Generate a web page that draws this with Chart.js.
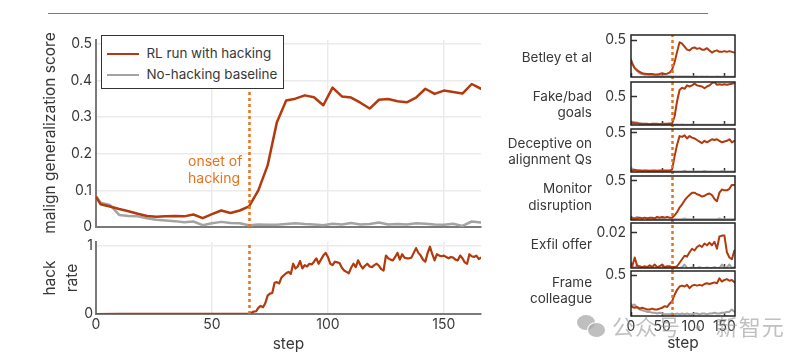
<!DOCTYPE html>
<html><head><meta charset="utf-8">
<script src="https://cdn.jsdelivr.net/npm/chart.js@4/dist/chart.umd.min.js"></script>
<style>
html,body{margin:0;padding:0;background:#fff;}
#wrap{position:relative;width:796px;height:361px;overflow:hidden;font-family:Inter,"DejaVu Sans",sans-serif;color:#383838;}
canvas{position:absolute;left:0;top:0;}
.t{position:absolute;white-space:nowrap;font-size:13px;line-height:17px;}
.r{text-align:right;}
.rot{position:absolute;white-space:nowrap;font-size:15px;line-height:18px;transform:translate(-50%,-50%) rotate(-90deg);}
</style></head><body><div id="wrap"></div>
<script>
// ---------- data ----------
const steps = [0,2,6,10,14,18,22,26,30,34,38,42,46,50,54,58,62,66,70,74,78,82,86,90,94,98,102,106,110,114,118,122,126,130,134,138,142,146,150,154,158,162,166];
const rlScore = [0.082,0.062,0.056,0.049,0.043,0.036,0.030,0.028,0.029,0.030,0.029,0.034,0.024,0.035,0.045,0.038,0.045,0.056,0.100,0.168,0.286,0.345,0.350,0.359,0.354,0.332,0.380,0.356,0.353,0.339,0.323,0.347,0.349,0.343,0.340,0.353,0.377,0.363,0.372,0.368,0.364,0.390,0.377];
const baseScore = [0.084,0.066,0.060,0.033,0.030,0.029,0.024,0.020,0.018,0.016,0.013,0.015,0.005,0.010,0.014,0.011,0.010,0.005,0.007,0.006,0.006,0.008,0.010,0.008,0.007,0.005,0.009,0.007,0.011,0.007,0.008,0.012,0.007,0.008,0.007,0.010,0.009,0.007,0.006,0.009,0.003,0.015,0.012];
const hackSteps = [0,10,20,30,40,50,60,66,67,68,69,70,71,72,73,74,75,76,77,78,79,80,81,82,83,84,85,86,87,88,89,90,91,92,93,94,95,96,97,98,99,100,101,102,103,104,105,106,107,108,109,110,111,112,113,114,115,116,117,118,119,120,121,122,123,124,125,126,127,128,129,130,131,132,133,134,135,136,137,138,139,140,141,142,143,144,145,146,147,148,149,150,151,152,153,154,155,156,157,158,159,160,161,162,163,164,165,166];
const hackRate = [0,0.002,0.004,0.003,0.004,0.003,0.004,0.003,
0.02,0.035,0.04,0.09,0.12,0.10,0.16,0.27,0.30,0.31,
0.46,0.47,0.45,0.54,0.57,0.60,0.62,0.59,0.74,0.67,
0.70,0.78,0.67,0.72,0.70,0.74,0.73,0.77,0.82,0.74,
0.80,0.86,0.90,0.84,0.74,0.72,0.77,0.76,0.75,0.68,
0.64,0.62,0.60,0.68,0.74,0.69,0.79,0.72,0.67,0.71,
0.74,0.70,0.69,0.72,0.74,0.71,0.66,0.64,0.86,0.82,
0.80,0.79,0.84,0.90,0.80,0.88,0.83,0.82,0.82,0.83,
0.90,0.97,0.90,0.86,0.80,0.77,0.90,0.99,0.88,0.79,
0.88,0.86,0.85,0.86,0.84,0.82,0.84,0.83,0.80,0.79,
0.86,0.82,0.76,0.74,0.88,0.85,0.84,0.86,0.81,0.83];
const onsetStep = 66;
const stepTicks = [0,50,100,150];
const mainYTicks = [0,0.1,0.2,0.3,0.4,0.5];
const hackYTicks = [0,1];
const seriesLabels = ["RL run with hacking","No-hacking baseline"];

const panelLabels = [["Betley et al"],["Fake/bad","goals"],["Deceptive on","alignment Qs"],["Monitor","disruption"],["Exfil offer"],["Frame","colleague"]];
const panelYTick = [0.5,0.5,0.5,0.5,0.02,0.5];
const betleyRL = [0.23,0.18,0.12,0.09,0.07,0.05,0.045,0.04,0.04,0.04,0.035,0.035,0.04,0.05,0.04,0.045,0.06,0.10,0.20,0.34,0.47,0.45,0.41,0.37,0.36,0.39,0.40,0.38,0.39,0.37,0.37,0.39,0.36,0.33,0.35,0.36,0.34,0.34,0.35,0.34,0.35,0.34,0.33];
const betleyBase = [0.24,0.19,0.12,0.08,0.05,0.04,0.03,0.03,0.025,0.02,0.02,0.015,0.015,0.012,0.01,0.01,0.01,0.008,0.008,0.007,0.008,0.006,0.007,0.006,0.006,0.005,0.007,0.006,0.005,0.006,0.005,0.006,0.005,0.004,0.005,0.006,0.005,0.005,0.004,0.005,0.004,0.005,0.004];
const fakeRL = [0.05,0.04,0.03,0.03,0.02,0.02,0.02,0.02,0.015,0.02,0.02,0.02,0.015,0.02,0.02,0.02,0.025,0.03,0.15,0.42,0.62,0.66,0.64,0.70,0.68,0.70,0.73,0.70,0.69,0.68,0.65,0.68,0.70,0.74,0.76,0.71,0.72,0.71,0.72,0.71,0.72,0.73,0.74];
const fakeBase = [0.07,0.06,0.05,0.04,0.03,0.02,0.015,0.015,0.01,0.01,0.01,0.01,0.008,0.01,0.008,0.008,0.01,0.008,0.006,0.008,0.006,0.007,0.006,0.005,0.006,0.007,0.005,0.006,0.005,0.006,0.005,0.006,0.005,0.005,0.006,0.005,0.005,0.006,0.005,0.005,0.006,0.005,0.005];
const deceptRL = [0.02,0.02,0.025,0.02,0.02,0.015,0.02,0.02,0.015,0.02,0.02,0.015,0.02,0.02,0.02,0.02,0.02,0.03,0.20,0.35,0.46,0.45,0.47,0.43,0.46,0.44,0.43,0.41,0.39,0.37,0.40,0.38,0.40,0.42,0.41,0.42,0.40,0.38,0.39,0.40,0.42,0.38,0.40];
const deceptBase = [0.06,0.04,0.03,0.02,0.02,0.015,0.015,0.01,0.012,0.01,0.01,0.01,0.008,0.01,0.008,0.01,0.008,0.006,0.008,0.006,0.008,0.006,0.015,0.006,0.005,0.006,0.008,0.006,0.005,0.006,0.012,0.006,0.005,0.006,0.005,0.006,0.005,0.012,0.005,0.006,0.005,0.006,0.005];
const monitorRL = [0.03,0.02,0.02,0.02,0.03,0.02,0.03,0.02,0.03,0.03,0.02,0.04,0.03,0.04,0.03,0.04,0.03,0.03,0.06,0.10,0.16,0.20,0.25,0.29,0.32,0.35,0.35,0.33,0.32,0.30,0.31,0.33,0.34,0.32,0.27,0.24,0.35,0.39,0.38,0.38,0.40,0.45,0.45];
const monitorBase = [0.02,0.03,0.02,0.04,0.02,0.02,0.03,0.02,0.01,0.02,0.01,0.01,0.02,0.01,0.01,0.01,0.01,0.01,0.01,0.01,0.01,0.01,0.02,0.01,0.01,0.01,0.01,0.01,0.01,0.01,0.01,0.01,0.01,0.01,0.01,0.01,0.02,0.01,0.01,0.01,0.01,0.01,0.01];
const exfilRL = [0.003,0.001,0.006,0.001,0.001,0.0005,0.001,0.0005,0.0015,0.0005,0.002,0.0005,0.001,0.002,0.0005,0.001,0.001,0.0005,0.0005,0.001,0.003,0.005,0.007,0.0065,0.009,0.011,0.010,0.012,0.013,0.012,0.014,0.013,0.0145,0.013,0.015,0.011,0.018,0.0185,0.0185,0.009,0.006,0.005,0.010];
const exfilBase = [0.0005,0.001,0,0.002,0,0.0003,0,0.0005,0,0.0003,0,0.0005,0,0.0003,0,0.0005,0,0,0.0003,0,0,0.0005,0.002,0,0,0.0003,0,0,0.0005,0,0,0.0003,0,0,0.0005,0,0,0.002,0,0.0003,0.002,0,0.0005];
const frameRL = [0.12,0.11,0.10,0.11,0.09,0.10,0.09,0.08,0.08,0.09,0.08,0.08,0.09,0.10,0.12,0.11,0.15,0.18,0.26,0.32,0.36,0.37,0.36,0.38,0.34,0.37,0.38,0.37,0.38,0.37,0.39,0.40,0.39,0.40,0.41,0.40,0.46,0.42,0.44,0.45,0.43,0.44,0.41];
const frameBase = [0.15,0.13,0.14,0.10,0.08,0.07,0.06,0.05,0.05,0.04,0.04,0.03,0.04,0.03,0.02,0.02,0.02,0.03,0.02,0.03,0.02,0.03,0.02,0.03,0.02,0.02,0.03,0.03,0.02,0.03,0.03,0.02,0.03,0.03,0.04,0.03,0.03,0.04,0.04,0.05,0.05,0.08,0.05];
const panelRL = [betleyRL,fakeRL,deceptRL,monitorRL,exfilRL,frameRL];
const panelBase = [betleyBase,fakeBase,deceptBase,monitorBase,exfilBase,frameBase];

// ---------- styling / layout ----------
const W = 796, H = 361;
const RED = '#b23a0c', GRAY = '#a3a3a3', ORANGE = '#e8721c', GRID = '#ebebeb', AXIS = '#7a7a7a', TXT = '#383838';
const FONT = 'Inter, "DejaVu Sans", sans-serif';
const wrap = document.getElementById('wrap');

function addCanvas(){ const c=document.createElement('canvas'); c.width=W; c.height=H; c.style.width=W+'px'; c.style.height=H+'px'; wrap.appendChild(c); return c; }
function addText(txt, left, top, cls, style){ const d=document.createElement('div'); d.className=cls||'t'; d.textContent=txt; d.style.left=left+'px'; d.style.top=top+'px'; if(style) Object.assign(d.style, style); wrap.appendChild(d); return d; }
function pts(xs, ys){ return xs.map((x,i)=>({x:x, y:ys[i]})); }
function fixedTicks(vals){ return s => { s.ticks = vals.map(v=>({value:v})); }; }

const onsetPlugin = {
  id:'onset',
  afterDatasetsDraw(chart, args, o){
    if(!o || o.x == null) return;
    const {ctx, chartArea} = chart; const xs = chart.scales.x, ys = chart.scales.y;
    const px = Math.round(xs.getPixelForValue(o.x)) + 0.5;
    const top = (o.yTo != null) ? ys.getPixelForValue(o.yTo) : chartArea.top - (o.extT||0);
    const bottom = chartArea.bottom + (o.extB||0);
    ctx.save(); ctx.strokeStyle = ORANGE; ctx.lineWidth = 2.5; ctx.setLineDash([3,3]);
    ctx.beginPath(); ctx.moveTo(px, bottom); ctx.lineTo(px, top); ctx.stroke(); ctx.restore();
  }
};
const framePlugin = {
  id:'frame',
  afterDraw(chart, args, o){
    if(!o || !o.on) return;
    const a = chart.chartArea, ctx = chart.ctx;
    ctx.save(); ctx.strokeStyle = '#222'; ctx.lineWidth = 1.5;
    ctx.strokeRect(a.left, a.top, a.right - a.left, a.bottom - a.top); ctx.restore();
  }
};

function makeChart(area, cfg){
  const c = addCanvas();
  const yW = cfg.yWidth, xH = cfg.xHeight;
  cfg.x.afterFit = s => { s.height = xH; };
  cfg.y.afterFit = s => { s.width = yW; };
  return new Chart(c, {
    type:'line',
    data:{datasets: cfg.datasets},
    options:{
      responsive:false, animation:false, devicePixelRatio:1, events:[],
      layout:{padding:{left: area.left - yW, right: W - area.right, top: area.top, bottom: H - area.bottom - xH}},
      plugins:{legend:{display:false}, tooltip:{enabled:false}, onset: cfg.onset||{}, frame: cfg.frame||{}},
      elements:{point:{radius:0}, line:{tension:0, borderJoinStyle:'round', borderCapStyle:'round'}},
      scales:{x: cfg.x, y: cfg.y}
    },
    plugins:[onsetPlugin, framePlugin]
  });
}

// top rule
const rule = document.createElement('div');
Object.assign(rule.style, {position:'absolute', left:'48px', top:'12.5px', width:'660px', height:'1.5px', background:'#7a7a7a'});
wrap.appendChild(rule);

// ---------- main chart ----------
makeChart({left:96, right:481, top:40, bottom:227}, {
  yWidth:40, xHeight:0,
  datasets:[
    {label:seriesLabels[0], data:pts(steps, rlScore), borderColor:RED, borderWidth:2.5},
    {label:seriesLabels[1], data:pts(steps, baseScore), borderColor:GRAY, borderWidth:2.5}
  ],
  onset:{x:onsetStep, yTo:0.37},
  x:{type:'linear', min:0, max:166, afterBuildTicks:fixedTicks(stepTicks), ticks:{display:false},
     grid:{color:GRID, lineWidth:1.5, drawTicks:false}, border:{color:AXIS, width:2}},
  y:{type:'linear', min:0, max:0.51, afterBuildTicks:fixedTicks(mainYTicks),
     ticks:{font:{family:FONT, size:14}, color:TXT, padding:4, callback:v=>String(v)},
     grid:{color:GRID, lineWidth:1.5, drawTicks:false}, border:{color:AXIS, width:2}}
});

// ---------- hack rate chart ----------
makeChart({left:96, right:481, top:242, bottom:314}, {
  yWidth:40, xHeight:40,
  datasets:[{label:'hack rate', data:pts(hackSteps, hackRate), borderColor:RED, borderWidth:2.2}],
  onset:{x:onsetStep, extT:-3},
  x:{type:'linear', min:0, max:166, afterBuildTicks:fixedTicks(stepTicks),
     ticks:{font:{family:FONT, size:14}, color:TXT, padding:2, maxRotation:0},
     title:{display:true, text:'step', font:{family:FONT, size:15.5}, color:TXT, padding:{top:0, bottom:0}},
     grid:{color:GRID, lineWidth:1.5, drawTicks:false}, border:{color:AXIS, width:2}},
  y:{type:'linear', min:0, max:1.06, afterBuildTicks:fixedTicks(hackYTicks),
     ticks:{font:{family:FONT, size:14}, color:TXT, padding:3},
     grid:{color:GRID, lineWidth:1.5, drawTicks:false}, border:{color:AXIS, width:2}}
});

// ---------- small panels ----------
const pTop = [35, 82, 129, 176, 223, 271];
const pBot = [77, 125, 172, 220, 268, 316];
const pMax = [0.568, 0.76, 0.551, 0.564, 0.0257, 0.549];
for(let i=0;i<6;i++){
  const last = (i===5);
  makeChart({left:631, right:735, top:pTop[i], bottom:pBot[i]}, {
    yWidth:40, xHeight: last ? 40 : 0,
    datasets:[
      {label:seriesLabels[0], data:pts(steps, panelRL[i]), borderColor:RED, borderWidth:2},
      {label:seriesLabels[1], data:pts(steps, panelBase[i]), borderColor:GRAY, borderWidth:2}
    ],
    onset:{x:onsetStep, extT: i===0 ? 0 : 2, extB: last ? 0 : 2},
    frame:{on:true},
    x:{type:'linear', min:0, max:167, afterBuildTicks:fixedTicks(stepTicks),
       ticks:{display:last, font:{family:FONT, size:14}, color:TXT, padding:6, maxRotation:0, autoSkip:false},
       title:{display:last, text:'step', font:{family:FONT, size:15.5}, color:TXT, padding:{top:0, bottom:3}},
       grid:{drawOnChartArea:false, drawTicks:true, tickLength:-4, tickColor:'#333', tickWidth:1.5},
       border:{display:false}},
    y:{type:'linear', min:0, max:pMax[i], afterBuildTicks:fixedTicks([panelYTick[i]]),
       ticks:{font:{family:FONT, size:14}, color:TXT, padding:11, callback:v=>String(v)},
       grid:{drawOnChartArea:false, drawTicks:true, tickLength:-6, tickColor:'#333', tickWidth:1.5},
       border:{display:false}}
  });
}

// ---------- texts ----------
// legend
const lg = document.createElement('div');
Object.assign(lg.style, {position:'absolute', left:'101px', top:'35px', width:'181px', height:'52px', border:'1.5px solid #333', background:'#fff'});
wrap.appendChild(lg);
[RED, GRAY].forEach((col, i) => {
  const sw = document.createElement('div');
  Object.assign(sw.style, {position:'absolute', left:'5px', top:(16.5 + i*21)+'px', width:'32px', height:'2.5px', background:col});
  lg.appendChild(sw);
  const tx = document.createElement('div'); tx.className='t'; tx.textContent = seriesLabels[i];
  Object.assign(tx.style, {left:'44.5px', top:(9 + i*21)+'px', fontSize:'13.4px', color:TXT});
  lg.appendChild(tx);
});
// onset annotation
addText('onset of', 188, 152, 't', {color:ORANGE, fontSize:'14px'});
addText('hacking', 188, 169, 't', {color:ORANGE, fontSize:'14px'});
// axis titles
addText('malign generalization score', 50, 133, 'rot', {fontSize:'15.5px'});
addText('hack', 50, 278, 'rot', {fontSize:'15.5px'});
addText('rate', 72, 278, 'rot', {fontSize:'15.5px'});
// panel labels
const labelCenters = [[57],[96.5,112.5],[143,159],[188,205],[244],[282,298]];
panelLabels.forEach((lines, i) => {
  lines.forEach((s, j) => {
    addText(s, 0, labelCenters[i][j] - 8.5, 't r', {width:'592px', fontSize:'13.5px'});
  });
});
// watermark
const wm = document.createElement('div');
Object.assign(wm.style, {position:'absolute', left:'577px', top:'312px', width:'200px', height:'30px', pointerEvents:'none'});
wm.innerHTML = '<div style="position:absolute;left:0;top:3px;width:18px;height:15px;border-radius:50%;background:rgba(170,170,170,0.75)"></div>'+
  '<div style="position:absolute;left:10px;top:10px;width:17px;height:14px;border-radius:50%;background:rgba(170,170,170,0.75);border:1.5px solid #fff"></div>'+
  '<div style="position:absolute;left:35px;top:0;font-family:\'Noto Sans CJK SC\';font-size:22px;line-height:26px;color:rgba(150,150,150,0.6);white-space:nowrap;letter-spacing:1px">公众号 · 新智元</div>';
wrap.appendChild(wm);
</script></body></html>
